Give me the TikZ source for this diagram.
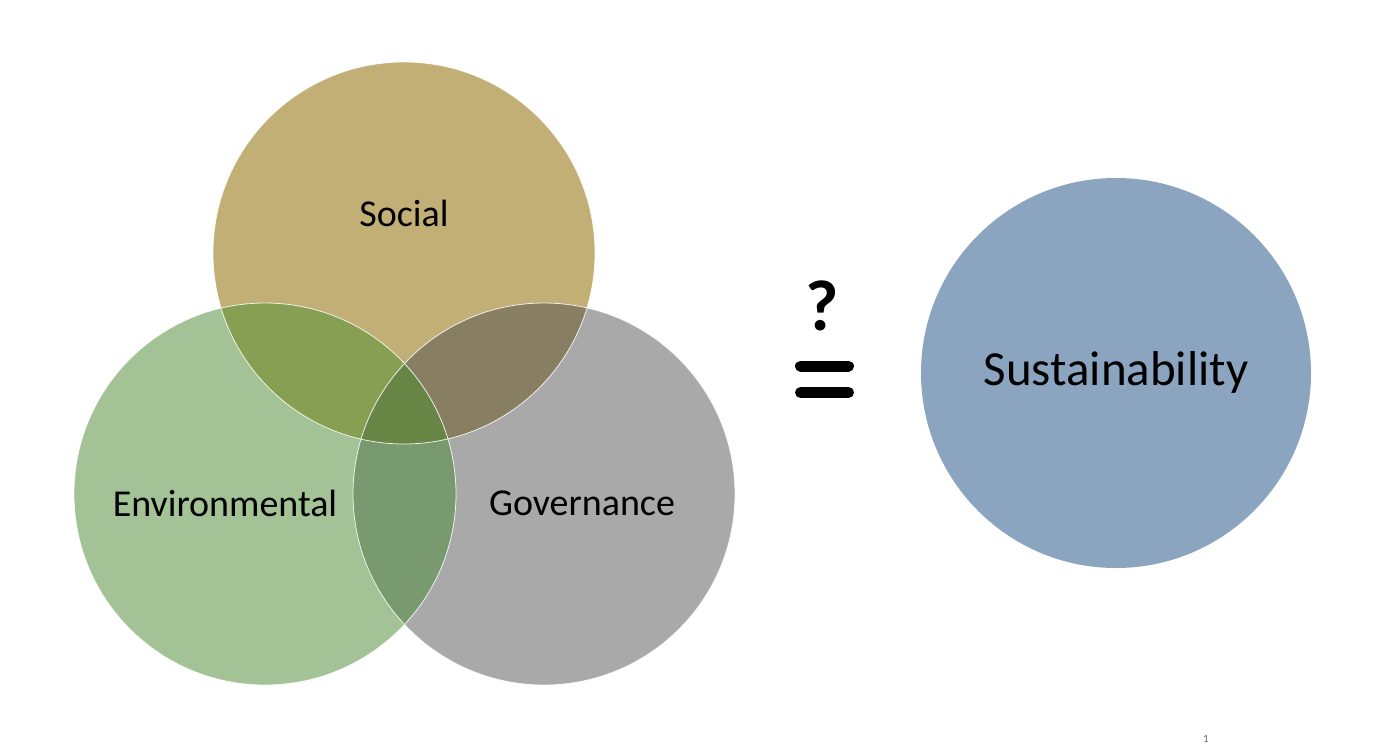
\documentclass[tikz,border=0pt]{standalone}
\usepackage{fontspec}
\setmainfont{Carlito}
\definecolor{socC}{HTML}{C2AF76}
\definecolor{envC}{HTML}{A3C295}
\definecolor{govC}{HTML}{A9A9A9}
\definecolor{susC}{HTML}{8BA5C0}
\definecolor{seC}{HTML}{879F52}
\definecolor{sgC}{HTML}{887F62}
\definecolor{egC}{HTML}{789A6E}
\definecolor{segC}{HTML}{678646}
\begin{document}
\begin{tikzpicture}[x=1pt,y=-1pt,
  venn/.style={circle,minimum size=382pt,inner sep=0pt,draw=none},
  lbl/.style={inner sep=0pt,font=\fontsize{38}{40}\selectfont,text=black},
  rim/.style={draw=white,line width=0.8pt,opacity=0.85}]
\useasboundingbox (0,0) rectangle (1381,744);
\fill[white] (0,0) rectangle (1381,744);
% base circles
\node[venn,fill=socC] (soc) at (404,253) {};
\node[venn,fill=envC] (env) at (265,494) {};
\node[venn,fill=govC] (gov) at (544,494) {};
% overlaps
\begin{scope}
  \clip (404,253) circle[radius=191pt];
  \fill[seC] (265,494) circle[radius=191pt];
  \fill[sgC] (544,494) circle[radius=191pt];
\end{scope}
\begin{scope}
  \clip (265,494) circle[radius=191pt];
  \fill[egC] (544,494) circle[radius=191pt];
  \clip (544,494) circle[radius=191pt];
  \fill[segC] (404,253) circle[radius=191pt];
\end{scope}
% white rims
\draw[rim] (404,253) circle[radius=191pt];
\draw[rim] (265,494) circle[radius=191pt];
\draw[rim] (544,494) circle[radius=191pt];
% labels
\node[lbl] (socT) at (404,213) {Social};
\node[lbl] (envT) at (225,503) {Environmental};
\node[lbl] (govT) at (582,503) {Governance};
% sustainability
\node[circle,minimum size=390pt,inner sep=0pt,fill=susC] (sus) at (1116,373) {};
\node[inner sep=0pt,font=\fontsize{49}{51}\selectfont] (susT) at (1116,372) {Sustainability};
% question mark and equals
\node[inner sep=0pt,font=\bfseries\fontsize{72}{74}\selectfont] (qm) at (822,306) {?};
\coordinate (e1a) at (800.5,366);
\coordinate (e1b) at (848.5,366);
\coordinate (e2a) at (800.5,392.5);
\coordinate (e2b) at (848.5,392.5);
\draw[line width=11pt,line cap=round] (e1a) -- (e1b);
\draw[line width=11pt,line cap=round] (e2a) -- (e2b);
% page number
\node[inner sep=0pt,font=\fontsize{11}{12}\selectfont,text=black!60] (pg) at (1206,739) {1};
\end{tikzpicture}
\end{document}
